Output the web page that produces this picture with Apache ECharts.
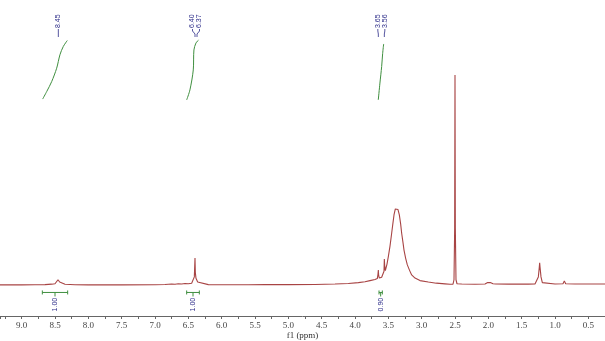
<!DOCTYPE html>
<html><head><meta charset="utf-8">
<script src="https://cdn.jsdelivr.net/npm/echarts@6/dist/echarts.min.js"></script>
<style>html,body{margin:0;padding:0;background:#fff}#c{width:605px;height:341px}</style>
</head><body><div id="c"></div>
<script>
// 1H NMR spectrum (ppm vs intensity)
const specPpm = [9.325,9.0,8.8,8.65,8.55,8.5,8.47,8.455,8.45,8.445,8.43,8.40,8.35,8.2,8.0,7.5,7.0,6.85,6.75,6.7,6.65,6.6,6.55,6.5,6.45,6.42,6.41,6.40,6.395,6.385,6.375,6.37,6.36,6.34,6.2,6.0,5.6,5.35,5.32,5.30,5.0,4.6,4.3,4.1,3.95,3.85,3.775,3.7,3.665,3.655,3.65,3.645,3.635,3.60,3.575,3.565,3.56,3.555,3.545,3.535,3.52,3.50,3.475,3.45,3.43,3.415,3.395,3.375,3.355,3.335,3.315,3.30,3.28,3.265,3.24,3.215,3.18,3.15,3.1,3.025,2.9,2.78,2.65,2.575,2.53,2.515,2.505,2.50,2.495,2.485,2.47,2.4,2.2,2.05,2.01,1.99,1.97,1.93,1.91,1.89,1.7,1.4,1.3,1.27,1.25,1.235,1.23,1.225,1.21,1.19,1.16,1.0,0.88,0.86,0.84,0.7,0.5,0.25];
const specInt = [0.2,0.2,0.25,0.3,0.45,0.6,1.2,2.0,2.6,2.0,1.2,0.6,0.4,0.25,0.2,0.2,0.25,0.35,0.5,0.4,0.6,0.5,0.7,0.6,0.8,1.3,3.0,9.6,4.5,2.5,3.0,3.2,1.2,0.5,0.3,0.25,0.25,0.3,1.0,0.3,0.3,0.35,0.5,0.7,1.0,1.3,1.7,2.1,2.4,4.0,5.4,3.5,2.6,2.9,3.6,5.0,9.3,7.0,5.2,5.4,7.5,10.1,13.8,18.3,22.0,24.7,26.8,27.4,26.6,24.7,21.5,18.3,15.0,12.4,9.5,7.2,5.2,3.7,2.6,1.7,1.2,0.8,0.55,0.4,0.45,2.0,20,73.7,20,2.0,0.6,0.5,0.4,0.5,1.0,1.3,1.0,0.6,1.2,0.5,0.45,0.45,0.5,1.0,3.0,6.5,7.9,6.5,3.0,1.0,0.55,0.5,0.6,1.6,0.6,0.5,0.5,0.5];

// peak picking labels
const peakPpm = [8.45, 6.40, 6.37, 3.65, 3.56];
const peakLabels = ['8.45', '6.40', '6.37', '3.65', '3.56'];

// integration regions
const integralFrom = [8.69, 6.525, 3.64];
const integralTo = [8.31, 6.335, 3.59];
const integralValues = ['1.00', '1.00', '0.90'];

// integral curves (ppm, height on intensity scale)
const integ1Ppm = [8.685, 8.625, 8.55, 8.475, 8.426, 8.376, 8.316];
const integ1Val = [65.3, 67.9, 71.4, 76.1, 80.8, 83.7, 85.8];
const integ2Ppm = [6.525, 6.476, 6.426, 6.416, 6.386, 6.345];
const integ2Val = [65.0, 68.5, 75.5, 82.5, 84.9, 86.0];
const integ3Ppm = [3.651, 3.626, 3.60, 3.585, 3.57];
const integ3Val = [65.0, 70.9, 76.7, 81.3, 84.6];

const xMin = 0.25, xMax = 9.325, xStep = 0.25;

const zip = (a, b) => a.map((v, i) => [v, b[i]]);

// spread peak labels that are too close (ppm units)
function spreadLabels(p, gap) {
  const out = p.slice();
  let i = 0;
  while (i < p.length) {
    let j = i;
    while (j + 1 < p.length && p[j] - p[j + 1] < gap) j++;
    const n = j - i + 1;
    if (n > 1) {
      let c = 0; for (let k = i; k <= j; k++) c += p[k]; c /= n;
      for (let k = 0; k < n; k++) out[i + k] = c + (n - 1) / 2 * gap - k * gap;
    }
    i = j + 1;
  }
  return out;
}
const labelPpm = spreadLabels(peakPpm, 0.105);

const navy = '#2b2b88', green = '#3f8f3f', red = '#a84444';
const chart = echarts.init(document.getElementById('c'), null, {renderer: 'canvas'});

chart.setOption({
  animation: false,
  backgroundColor: '#fff',
  grid: {left: 0, right: 0, top: 0, bottom: 25, containLabel: false, outerBoundsMode: 'none'},
  xAxis: {
    type: 'value', inverse: true, min: xMin, max: xMax, interval: xStep,
    name: 'f1 (ppm)', nameLocation: 'middle', nameGap: 15, nameMoveOverlap: false,
    nameTextStyle: {fontSize: 9, color: '#333', fontFamily: 'Liberation Serif'},
    axisLine: {show: true, onZero: false, lineStyle: {color: '#666', width: 1}},
    axisTick: {show: true, length: 3, lineStyle: {color: '#666'}},
    axisLabel: {
      margin: 5, fontSize: 9, color: '#444', fontFamily: 'Liberation Serif',
      formatter: v => (Math.abs(v * 2 - Math.round(v * 2)) < 1e-6) ? v.toFixed(1) : ''
    },
    splitLine: {show: false}
  },
  yAxis: {type: 'value', min: -10.7, max: 100, show: false, splitLine: {show: false}},
  series: [
    {type: 'line', data: zip(specPpm, specInt), showSymbol: false, symbol: 'none',
     lineStyle: {color: red, width: 1.1}, z: 3},
    {type: 'line', data: zip(integ1Ppm, integ1Val), showSymbol: false, symbol: 'none', smooth: 0.3,
     lineStyle: {color: green, width: 1}},
    {type: 'line', data: zip(integ2Ppm, integ2Val), showSymbol: false, symbol: 'none', smooth: 0.3,
     lineStyle: {color: green, width: 1}},
    {type: 'line', data: zip(integ3Ppm, integ3Val), showSymbol: false, symbol: 'none', smooth: 0.3,
     lineStyle: {color: green, width: 1}},
    {
      type: 'custom', clip: false,
      data: peakPpm.map((p, i) => [p, labelPpm[i]]),
      renderItem(params, api) {
        const px = api.coord([api.value(0), 0])[0];
        const lx = api.coord([api.value(1), 0])[0];
        const top = params.coordSys.y;
        return {type: 'group', children: [
          {type: 'text', x: lx, y: top + 28, rotation: Math.PI / 2,
           style: {text: peakLabels[params.dataIndex], fill: navy,
                   font: '7px "Liberation Sans"', align: 'left', verticalAlign: 'middle'}},
          {type: 'polyline', shape: {points: [[lx, top + 29], [lx, top + 31], [px, top + 34], [px, top + 37]]},
           style: {stroke: navy, fill: null, lineWidth: 0.8}}
        ]};
      }
    },
    {
      type: 'custom', clip: false,
      data: integralFrom.map((f, i) => [f, integralTo[i]]),
      renderItem(params, api) {
        const x1 = api.coord([api.value(0), 0])[0];
        const x2 = api.coord([api.value(1), 0])[0];
        const yb = api.coord([api.value(0), 0])[1] + 7;
        const xc = (x1 + x2) / 2;
        const st = {stroke: green, lineWidth: 1};
        return {type: 'group', children: [
          {type: 'line', shape: {x1: x1, y1: yb, x2: x2, y2: yb}, style: st},
          {type: 'line', shape: {x1: x1, y1: yb - 2, x2: x1, y2: yb + 2}, style: st},
          {type: 'line', shape: {x1: x2, y1: yb - 2, x2: x2, y2: yb + 2}, style: st},
          {type: 'line', shape: {x1: xc, y1: yb, x2: xc, y2: yb + 4}, style: st},
          {type: 'text', x: xc, y: yb + 19, rotation: Math.PI / 2,
           style: {text: integralValues[params.dataIndex], fill: navy,
                   font: '7px "Liberation Sans"', align: 'left', verticalAlign: 'middle'}}
        ]};
      }
    }
  ]
});
</script>
</body></html>
